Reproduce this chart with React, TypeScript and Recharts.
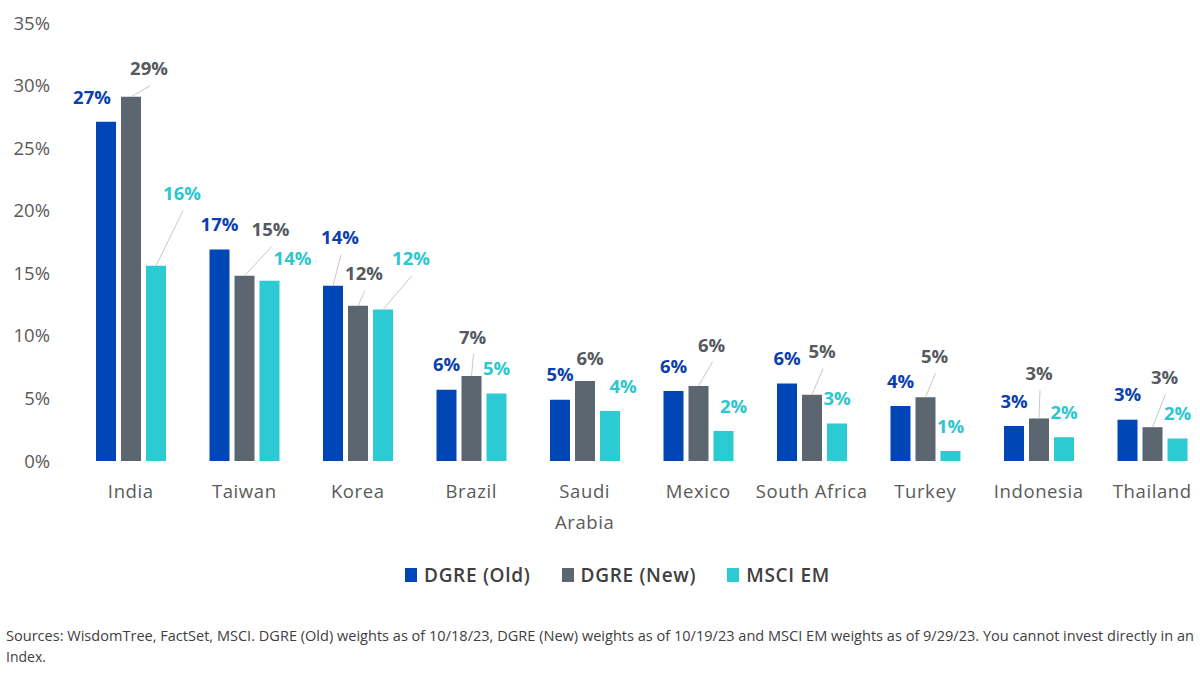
import React from 'react';
import { BarChart, Bar, XAxis, YAxis, Legend, LabelList } from 'recharts';

const categories = ['India', 'Taiwan', 'Korea', 'Brazil', 'Saudi Arabia', 'Mexico', 'South Africa', 'Turkey', 'Indonesia', 'Thailand'];
const dgreOld = [27.1, 16.9, 14.0, 5.7, 4.9, 5.6, 6.2, 4.4, 2.8, 3.3];
const dgreNew = [29.1, 14.8, 12.4, 6.8, 6.4, 6.0, 5.3, 5.1, 3.4, 2.7];
const msciEm = [15.6, 14.4, 12.1, 5.4, 4.0, 2.4, 3.0, 0.8, 1.9, 1.8];
const yTicks = [0, 5, 10, 15, 20, 25, 30, 35];
const seriesNames = ['DGRE (Old)', 'DGRE (New)', 'MSCI EM'];
const tickLines: Record<string, string[]> = { 'Saudi Arabia': ['Saudi', 'Arabia'] };
const footnoteLines = [
  'Sources: WisdomTree, FactSet, MSCI. DGRE (Old) weights as of 10/18/23, DGRE (New) weights as of 10/19/23 and MSCI EM weights as of 9/29/23. You cannot invest directly in an',
  'Index.',
];

const COLORS = { old: '#0046B6', new: '#5B6670', msci: '#2CCAD2' };
const LABEL_COLORS = { old: '#0A40AE', new: '#555A60', msci: '#2CC6CE' };
const FONT = "'Open Sans', 'Noto Sans', sans-serif";

// manual label nudges (dx, dy, leader line) as in the source chart
const labelNudges: Record<string, Record<string, [number, number, boolean?]>> = {
  old: { India: [-14, 0], Korea: [7, -23, true] },
  new: {
    India: [18, -3, true], Taiwan: [26, -21, true], Korea: [6, -7, true], Brazil: [1, -14, true],
    'Saudi Arabia': [5, 2], Mexico: [13, -16, true], 'South Africa': [10, -18, true],
    Turkey: [9, -16, true], Indonesia: [0, -20, true], Thailand: [12, -25, true],
  },
  msci: { India: [26, -47, true], Taiwan: [23, 3], Korea: [28, -26, true], 'Saudi Arabia': [13, 0], Mexico: [10, 0] },
};

const data = categories.map((name, i) => ({ name, old: dgreOld[i], new: dgreNew[i], msci: msciEm[i] }));

const makeLabel = (key: 'old' | 'new' | 'msci') => (props: any) => {
  const { x, y, width, value, index } = props;
  const cat = categories[index];
  const n = labelNudges[key][cat] || [0, 0, false];
  const cx = Number(x) + Number(width) / 2;
  const top = Number(y);
  const lx = cx + n[0];
  const ly = top - 25 + n[1];
  return (
    <g>
      {n[2] ? <line x1={cx} y1={top} x2={lx + 1} y2={ly + 17} stroke="#C8C8C8" strokeWidth={1} /> : null}
      <text x={lx} y={ly} dy="0.36em" textAnchor="middle" fill={LABEL_COLORS[key]} fontFamily={FONT} fontSize={18.5} fontWeight={700}>
        {`${Math.round(Number(value))}%`}
      </text>
    </g>
  );
};

const CategoryTick = (props: any) => {
  const { x, y, payload } = props;
  const lines = tickLines[payload.value] || [payload.value];
  return (
    <g>
      {lines.map((ln, i) => (
        <text key={i} x={x} y={Number(y) + 37 + i * 31} textAnchor="middle" fill="#5A5A5A" fontFamily={FONT} fontSize={18.5} letterSpacing={0.6}>
          {ln}
        </text>
      ))}
    </g>
  );
};

const renderLegend = (props: any) => {
  const payload = [...(props.payload || [])].sort(
    (a: any, b: any) => seriesNames.indexOf(a.value) - seriesNames.indexOf(b.value)
  );
  return (
    <div style={{ display: 'flex', alignItems: 'center', fontFamily: FONT, fontSize: 19, fontWeight: 600, color: '#404040', whiteSpace: 'nowrap', letterSpacing: 0.7 }}>
      {payload.map((p: any, i: number) => (
        <div key={i} style={{ display: 'flex', alignItems: 'center', marginRight: 31 }}>
          <span style={{ display: 'inline-block', width: 12, height: 14, background: p.color, marginRight: 7 }} />
          <span>{p.value}</span>
        </div>
      ))}
    </div>
  );
};

export default function App() {
  return (
    <div style={{ position: 'absolute', left: 0, top: 0, width: 1200, height: 678, overflow: 'hidden', background: '#fff' }}>
      <BarChart width={1209} height={600} data={data} margin={{ top: 23, right: 0, bottom: 0, left: 0 }} barSize={20} barGap={5}>
        <XAxis dataKey="name" axisLine={false} tickLine={false} tickSize={0} tickMargin={0} height={139} interval={0} tick={<CategoryTick />} />
        <YAxis
          domain={[0, 35]}
          ticks={yTicks}
          axisLine={false}
          tickLine={false}
          tickSize={0}
          tickMargin={24}
          width={74}
          tickFormatter={(v: number) => `${v}%`}
          tick={{ fill: '#5A5A5A', fontSize: 18.5, fontFamily: FONT }}
        />
        <Legend layout="horizontal" verticalAlign="middle" align="center" itemSorter={null as any} content={renderLegend} wrapperStyle={{ top: 562, left: 405, width: 'auto' }} />
        <Bar dataKey="old" name={seriesNames[0]} fill={COLORS.old} isAnimationActive={false}>
          <LabelList dataKey="old" content={makeLabel('old')} />
        </Bar>
        <Bar dataKey="new" name={seriesNames[1]} fill={COLORS.new} isAnimationActive={false}>
          <LabelList dataKey="new" content={makeLabel('new')} />
        </Bar>
        <Bar dataKey="msci" name={seriesNames[2]} fill={COLORS.msci} isAnimationActive={false}>
          <LabelList dataKey="msci" content={makeLabel('msci')} />
        </Bar>
      </BarChart>
      <svg width={1200} height={60} style={{ position: 'absolute', left: 0, top: 618 }}>
        <text x={6} y={23} fill="#404040" fontFamily={FONT} fontSize={14} textLength={1188} lengthAdjust="spacingAndGlyphs">
          {footnoteLines[0]}
        </text>
        <text x={6} y={44} fill="#404040" fontFamily={FONT} fontSize={14}>
          {footnoteLines[1]}
        </text>
      </svg>
    </div>
  );
}
